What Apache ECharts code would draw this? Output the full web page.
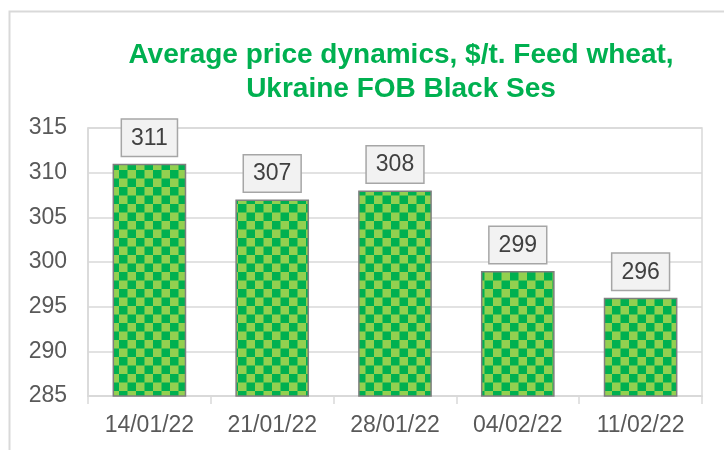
<!DOCTYPE html>
<html><head><meta charset="utf-8">
<script src="https://cdn.jsdelivr.net/npm/echarts@6/dist/echarts.min.js"></script>
<style>html,body{margin:0;padding:0;background:#fff}#c{width:724px;height:450px}</style>
</head><body><div id="c"></div>
<script>
const categories = ['14/01/22','21/01/22','28/01/22','04/02/22','11/02/22'];
const prices = [311, 307, 308, 299, 296];
const yTicks = {min: 285, max: 315, interval: 5};
const titleText = 'Average price dynamics, $/t. Feed wheat,\nUkraine FOB Black Ses';

const cell = 8.3;
const pc = document.createElement('canvas');
pc.width = Math.round(cell*2); pc.height = Math.round(cell*2);
const g = pc.getContext('2d');
g.fillStyle = '#92d050'; g.fillRect(0,0,pc.width,pc.height);
g.fillStyle = '#00b050';
const h = pc.width/2;
g.fillRect(0,0,h,h); g.fillRect(h,h,h,h);

const chart = echarts.init(document.getElementById('c'), null, {renderer:'canvas'});
chart.setOption({
  animation:false,
  backgroundColor:'#fff',
  title:{text:titleText, left:396, top:33, textAlign:'center',
    textStyle:{fontFamily:'Liberation Sans, Arial', fontWeight:'bold', fontSize:28, color:'#00b050', lineHeight:34}},
  graphic:[{type:'rect', shape:{x:9.5,y:11.5,width:800,height:500}, style:{fill:'none', stroke:'#d9d9d9', lineWidth:2}, silent:true}],
  grid:{left:88, right:22, top:128, bottom:54, show:true, borderColor:'#d9d9d9', borderWidth:1.5},
  xAxis:{type:'category', data:categories,
    axisLine:{lineStyle:{color:'#d9d9d9', width:1.5}},
    axisTick:{show:true, alignWithLabel:false, length:8, lineStyle:{color:'#d9d9d9', width:1.5}},
    axisLabel:{fontFamily:'Liberation Sans, Arial', fontSize:23, color:'#595959', margin:18}},
  yAxis:{type:'value', min:yTicks.min, max:yTicks.max, interval:yTicks.interval,
    axisLine:{show:true, lineStyle:{color:'#d9d9d9', width:1.5}},
    axisTick:{show:false},
    splitLine:{lineStyle:{color:'#d9d9d9', width:1.5}},
    axisLabel:{fontFamily:'Liberation Sans, Arial', fontSize:23, color:'#595959', margin:21}},
  series:[{type:'bar', data:prices, barWidth:'60%',
    itemStyle:{color:{image:pc, repeat:'repeat'}, borderColor:'#7f7f7f', borderWidth:1.5},
    label:{show:true, position:'top', distance:8, fontFamily:'Liberation Sans, Arial', fontSize:23, color:'#404040',
      backgroundColor:'#f2f2f2', borderColor:'#a6a6a6', borderWidth:1.5, padding:[6,9,5,9], lineHeight:25}}]
});
</script></body></html>
